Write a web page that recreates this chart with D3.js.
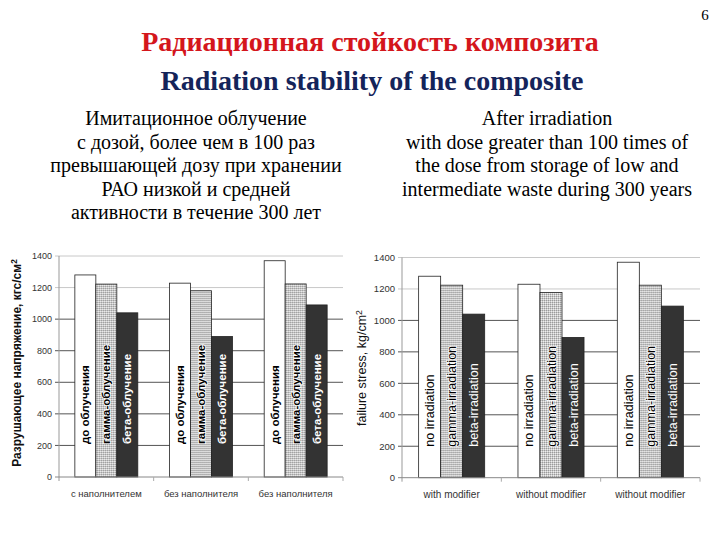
<!DOCTYPE html>
<html>
<head>
<meta charset="utf-8">
<script src="https://cdn.jsdelivr.net/npm/d3@7"></script>
<style>
  body { margin: 0; background: #fff; }
  svg { display: block; }
</style>
</head>
<body>
<svg id="slide" width="720" height="540"></svg>
<script>
// data
const groupsRu = ["с наполнителем", "без наполнителя", "без наполнителя"];
const groupsEn = ["with modifier", "without modifier", "without modifier"];
const seriesRu = ["до облучения", "гамма-облучение", "бета-облучение"];
const seriesEn = ["no irradiation", "gamma-irradiation", "beta-irradiation"];
const valuesRu = [[1280, 1222, 1040], [1228, 1180, 890], [1370, 1223, 1090]];
const valuesEn = [[1281, 1224, 1040], [1230, 1178, 892], [1370, 1224, 1091]];
const yTicks = [0, 200, 400, 600, 800, 1000, 1200, 1400];

const subRu = ["Имитационное облучение", "с дозой, более чем в 100 раз",
  "превышающей дозу при хранении", "РАО низкой и средней", "активности в течение 300 лет"];
const subEn = ["After irradiation", "with dose greater than 100 times of",
  "the dose from storage of low and", "intermediate waste during 300 years"];

const svg = d3.select("#slide");
const SERIF = "Liberation Serif";
const SANS = "Liberation Sans";

// stipple pattern for gamma bars
const pat = svg.append("defs").append("pattern")
  .attr("id", "stipple").attr("width", 2).attr("height", 2)
  .attr("patternUnits", "userSpaceOnUse");
pat.append("rect").attr("width", 2).attr("height", 2).attr("fill", "#c9c9c9");
pat.append("rect").attr("width", 1).attr("height", 1).attr("fill", "#9a9a9a");
pat.append("rect").attr("x", 1).attr("y", 1).attr("width", 1).attr("height", 1).attr("fill", "#eeeeee");

// headings
svg.append("text").attr("font-family", SERIF).attr("x", 705).attr("y", 20)
  .attr("text-anchor", "middle").attr("font-size", 15).text("6");
svg.append("text").attr("font-family", SERIF).attr("x", 370).attr("y", 51)
  .attr("text-anchor", "middle").attr("fill", "#d4161c")
  .attr("font-size", 28).attr("font-weight", "bold")
  .text("Радиационная стойкость композита");
svg.append("text").attr("font-family", SERIF).attr("x", 372).attr("y", 90)
  .attr("text-anchor", "middle").attr("fill", "#14245a")
  .attr("font-size", 28).attr("font-weight", "bold")
  .text("Radiation stability of the composite");

function subtitle(lines, cx) {
  svg.append("g").selectAll("text").data(lines).enter().append("text")
    .attr("font-family", SERIF)
    .attr("x", cx).attr("y", (d, i) => 125 + i * 23.5)
    .attr("text-anchor", "middle").attr("font-size", 20)
    .text(d => d);
}
subtitle(subRu, 196);
subtitle(subEn, 547);

function drawChart(cfg) {
  const g = svg.append("g").attr("font-family", SANS);
  const x0 = d3.scaleBand().domain(d3.range(cfg.groups.length))
    .range([cfg.left, cfg.right]).paddingInner(0.335).paddingOuter(0.1675);
  const x1 = d3.scaleBand().domain(d3.range(cfg.series.length)).range([0, x0.bandwidth()]);
  const y = d3.scaleLinear().domain([0, 1400]).range([cfg.bottom, cfg.top]);
  const step = x0.step();

  // gridlines
  g.selectAll(".grid").data(yTicks.slice(1)).enter().append("line")
    .attr("x1", cfg.left - 4).attr("x2", cfg.right)
    .attr("y1", d => y(d)).attr("y2", d => y(d))
    .attr("stroke", d => d >= 1200 ? "#c8c8c8" : "#555")
    .attr("stroke-width", 1);

  // y axis labels
  g.selectAll(".tick").data(yTicks).enter().append("text")
    .attr("x", cfg.left - 7).attr("y", d => y(d)).attr("dy", "0.35em")
    .attr("text-anchor", "end").attr("fill", "#333")
    .attr("font-size", cfg.tickSize)
    .text(d => d);

  // bars
  const grp = g.selectAll(".grp").data(cfg.values).enter().append("g")
    .attr("transform", (d, i) => `translate(${x0(i)},0)`);
  const fills = ["#ffffff", "url(#stipple)", "#333333"];
  grp.selectAll("rect").data(d => d).enter().append("rect")
    .attr("x", (d, j) => x1(j)).attr("width", x1.bandwidth())
    .attr("y", d => y(d)).attr("height", d => cfg.bottom - y(d))
    .attr("fill", (d, j) => fills[j])
    .attr("stroke", "#222").attr("stroke-width", 0.8);

  // labels inside bars
  grp.selectAll(".lab").data(d => d).enter().append("text")
    .attr("transform", (d, j) =>
      `translate(${x1(j) + x1.bandwidth() / 2},${cfg.bottom - cfg.labelOff}) rotate(-90)`)
    .attr("dy", "0.36em")
    .attr("fill", (d, j) => j === 2 ? "#fff" : "#000")
    .attr("stroke", (d, j) => j === 1 ? "#fff" : "none")
    .attr("stroke-width", 1.6).attr("paint-order", "stroke")
    .attr("font-size", cfg.labelSize).attr("font-weight", cfg.labelWeight)
    .text((d, j) => cfg.series[j]);

  // axes lines
  g.append("line").attr("x1", cfg.left).attr("x2", cfg.left)
    .attr("y1", cfg.top).attr("y2", cfg.bottom + 4).attr("stroke", "#999");
  g.append("line").attr("x1", cfg.left).attr("x2", cfg.right)
    .attr("y1", cfg.bottom).attr("y2", cfg.bottom).attr("stroke", "#888");
  g.append("line").attr("x1", cfg.left - 4).attr("x2", cfg.left)
    .attr("y1", cfg.bottom).attr("y2", cfg.bottom).attr("stroke", "#888");
  g.selectAll(".xt").data(d3.range(1, cfg.groups.length + 1)).enter().append("line")
    .attr("x1", i => cfg.left + i * step).attr("x2", i => cfg.left + i * step)
    .attr("y1", cfg.bottom).attr("y2", cfg.bottom + 4).attr("stroke", "#aaa");

  // category labels
  g.selectAll(".xl").data(cfg.groups).enter().append("text")
    .attr("x", (d, i) => x0(i) + x0.bandwidth() / 2).attr("y", cfg.bottom + 20)
    .attr("text-anchor", "middle").attr("fill", "#333")
    .attr("font-size", cfg.catSize)
    .text(d => d);

  // y title
  const t = g.append("text")
    .attr("transform", `translate(${cfg.titleX},${cfg.titleY}) rotate(-90)`)
    .attr("text-anchor", "middle").attr("dy", "0.35em").attr("fill", "#111")
    .attr("font-size", cfg.titleSize).attr("font-weight", cfg.titleWeight);
  t.append("tspan").text(cfg.title);
  t.append("tspan").attr("dy", "-0.45em").attr("font-size", cfg.titleSize * 0.7).text("2");
}

drawChart({
  groups: groupsRu, series: seriesRu, values: valuesRu,
  left: 59, right: 343, top: 256, bottom: 477,
  tickSize: 9, catSize: 9.5, labelSize: 11.5, labelWeight: "bold", labelOff: 33,
  title: "Разрушающее напряжение, кгс/см", titleX: 17, titleY: 363,
  titleSize: 12, titleWeight: "bold"
});

drawChart({
  groups: groupsEn, series: seriesEn, values: valuesEn,
  left: 402, right: 700, top: 257.5, bottom: 477.7,
  tickSize: 9.5, catSize: 10, labelSize: 12.5, labelWeight: "normal", labelOff: 31,
  title: "failure stress, kg/cm", titleX: 362, titleY: 368,
  titleSize: 12.5, titleWeight: "normal"
});
</script>
</body>
</html>
